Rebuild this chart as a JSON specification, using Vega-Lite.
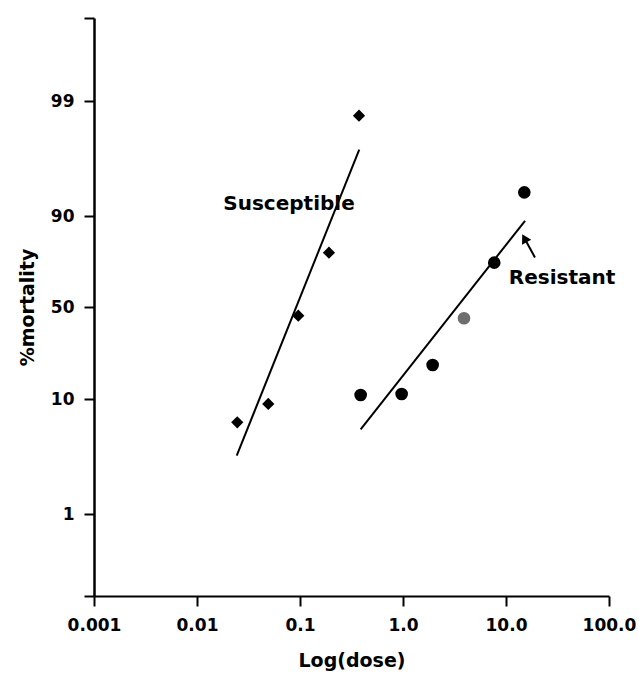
{
  "$schema": "https://vega.github.io/schema/vega-lite/v6.json",
  "width": 515,
  "height": 578,
  "autosize": {"type": "none"},
  "padding": {"left": 94, "top": 18, "right": 30, "bottom": 86},
  "background": "white",
  "config": {
    "view": {"stroke": null},
    "font": "DejaVu Sans",
    "axis": {
      "domainColor": "black", "domainWidth": 2, "tickColor": "black", "tickWidth": 2,
      "grid": false, "labelFont": "DejaVu Sans", "labelFontWeight": "bold", "labelFontSize": 17,
      "labelColor": "black", "titleFont": "DejaVu Sans", "titleFontWeight": "bold",
      "titleFontSize": 19, "titleColor": "black", "tickSize": 10
    }
  },
  "datasets": {
    "susPts": [
      {"dose": 0.0246, "mort": 8.18},
      {"dose": 0.0492, "mort": 9.61},
      {"dose": 0.0962, "mort": 46.2},
      {"dose": 0.191, "mort": 73.9},
      {"dose": 0.374, "mort": 97.85}
    ],
    "resPts": [
      {"dose": 0.388, "mort": 11.74, "tone": "black"},
      {"dose": 0.970, "mort": 12.17, "tone": "black"},
      {"dose": 1.94, "mort": 24.8, "tone": "black"},
      {"dose": 3.91, "mort": 45.1, "tone": "gray"},
      {"dose": 7.69, "mort": 69.5, "tone": "black"},
      {"dose": 15.06, "mort": 91.85, "tone": "black"}
    ],
    "fits": [
      {"series": "Susceptible", "dose": 0.0243, "mort": 5.56},
      {"series": "Susceptible", "dose": 0.376, "mort": 95.2},
      {"series": "Resistant", "dose": 0.388, "mort": 7.63},
      {"series": "Resistant", "dose": 15.3, "mort": 87.9}
    ],
    "labels": [
      {"text": "Susceptible", "dose": 0.0782, "mort": 90.94},
      {"text": "Resistant", "dose": 35.0, "mort": 62.7}
    ],
    "arrow": [
      {"dose": 19.1, "mort": 71.8, "dose2": 15.1, "mort2": 80.2}
    ]
  },
  "encoding": {
    "x": {
      "field": "dose", "type": "quantitative",
      "scale": {"type": "log", "domain": [0.001, 100], "nice": false},
      "axis": {
        "title": "Log(dose)", "values": [0.001, 0.01, 0.1, 1, 10, 100],
        "labelExpr": "datum.value == 1 ? '1.0' : datum.value == 10 ? '10.0' : datum.value == 100 ? '100.0' : format(datum.value, '~g')",
        "labelPadding": 11, "titlePadding": 18, "labelFlush": false, "labelOverlap": false
      }
    },
    "y": {
      "field": "mort", "type": "quantitative",
      "scale": {"type": "linear", "domain": [0.1, 1, 10, 50, 90, 99, 99.9], "range": [578, 496, 381, 289, 198, 83, 0], "zero": false, "nice": false, "clamp": false},
      "axis": {
        "title": "%mortality", "values": [0.1, 1, 10, 50, 90, 99, 99.9],
        "labelExpr": "(datum.value == 0.1 || datum.value == 99.9) ? '' : format(datum.value, '~g')",
        "labelPadding": 10, "titlePadding": 13, "domainWidth": 2.5, "labelFlush": false, "labelOverlap": false
      }
    }
  },
  "layer": [
    {
      "data": {"name": "fits"},
      "mark": {"type": "line", "color": "black", "strokeWidth": 2},
      "encoding": {"detail": {"field": "series"}}
    },
    {
      "data": {"name": "susPts"},
      "mark": {"type": "point", "shape": "diamond", "filled": true, "color": "black", "size": 150, "opacity": 1}
    },
    {
      "data": {"name": "resPts"},
      "mark": {"type": "point", "shape": "circle", "filled": true, "size": 160, "opacity": 1},
      "encoding": {
        "color": {"field": "tone", "type": "nominal", "scale": {"domain": ["black", "gray"], "range": ["#000000", "#6e6e6e"]}, "legend": null}
      }
    },
    {
      "data": {"name": "arrow"},
      "mark": {"type": "rule", "color": "black", "strokeWidth": 2},
      "encoding": {"x2": {"field": "dose2"}, "y2": {"field": "mort2"}}
    },
    {
      "data": {"name": "arrow"},
      "mark": {"type": "point", "shape": "triangle-up", "filled": true, "color": "black", "size": 110, "angle": 331, "opacity": 1},
      "encoding": {"x": {"field": "dose2", "type": "quantitative"}, "y": {"field": "mort2", "type": "quantitative"}}
    },
    {
      "data": {"name": "labels"},
      "mark": {"type": "text", "font": "DejaVu Sans", "fontWeight": "bold", "fontSize": 20, "color": "black", "align": "center", "baseline": "middle"},
      "encoding": {"text": {"field": "text"}}
    }
  ]
}
